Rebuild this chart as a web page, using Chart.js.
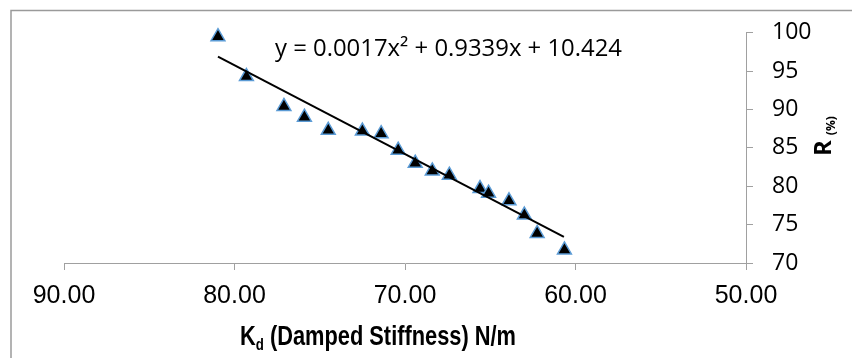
<!DOCTYPE html>
<html>
<head>
<meta charset="utf-8">
<script src="https://cdn.jsdelivr.net/npm/chart.js@4.4.1/dist/chart.umd.min.js"></script>
<style>
  html, body { margin: 0; padding: 0; background: #ffffff; }
  #wrap { width: 852px; height: 358px; position: relative; }
</style>
</head>
<body>
<div id="wrap"><canvas id="chart"></canvas></div>
<script>
// Damped stiffness Kd (N/m) vs R (%)
const stiffness = [80.97, 79.3, 77.1, 75.9, 74.5, 72.5, 71.4, 70.4, 69.4, 68.4, 67.4, 65.6, 65.1, 63.9, 63.0, 62.25, 60.65];
const ratio     = [99.5, 94.3, 90.4, 89.0, 87.3, 87.2, 86.85, 84.7, 83.0, 82.0, 81.45, 79.7, 79.1, 78.1, 76.25, 73.85, 71.7];

// fitted trend line, ends
const trendX = [80.97, 60.68];
const trendY = [96.9, 73.4];

const xTicks = [90, 80, 70, 60, 50];
const yTicks = [70, 75, 80, 85, 90, 95, 100];
const equationText = 'y = 0.0017x\u00B2 + 0.9339x + 10.424';

const axisGray = '#a0a0a0';

// frame, equation and axis titles
const decorations = {
    id: 'decorations',
    afterDraw(chart) {
        const ctx = chart.ctx;
        ctx.save();

        // outer frame (only top and left edges are visible)
        ctx.strokeStyle = '#9a9a9a';
        ctx.lineWidth = 1.5;
        ctx.beginPath();
        ctx.moveTo(11, 358);
        ctx.lineTo(11, 10.5);
        ctx.lineTo(852, 10.5);
        ctx.stroke();

        // trend line equation, stretched to the width seen in the picture
        ctx.fillStyle = '#000000';
        ctx.font = "23px 'Open Sans'";
        ctx.textBaseline = 'alphabetic';
        ctx.textAlign = 'left';
        const wEq = ctx.measureText(equationText).width;
        ctx.save();
        ctx.translate(275, 56);
        ctx.scale(347 / wEq, 1);
        ctx.fillText(equationText, 0, 0);
        ctx.restore();

        // x axis title: K_d (Damped Stiffness) N/m
        const bigFont = "bold 28px 'Liberation Sans Narrow', 'Liberation Sans'";
        const subFont = "bold 17px 'Liberation Sans Narrow', 'Liberation Sans'";
        ctx.font = bigFont;
        const wK = ctx.measureText('K').width;
        const wRest = ctx.measureText(' (Damped Stiffness) N/m').width;
        ctx.font = subFont;
        const wD = ctx.measureText('d').width;
        const total = wK + wD + wRest;
        ctx.save();
        ctx.translate(240, 345);
        ctx.scale(276 / total, 1);
        ctx.font = bigFont;
        ctx.fillText('K', 0, 0);
        ctx.font = subFont;
        ctx.fillText('d', wK, 5);
        ctx.font = bigFont;
        ctx.fillText(' (Damped Stiffness) N/m', wK + wD, 0);
        ctx.restore();

        // y axis title: R with (%) as subscript, rotated
        ctx.save();
        ctx.translate(831, 156);
        ctx.rotate(-Math.PI / 2);
        ctx.font = "bold 24px 'Open Sans'";
        ctx.fillText('R', 0, 0);
        const wR = ctx.measureText('R').width;
        ctx.font = "bold 12px 'Open Sans'";
        ctx.fillText('(%)', wR + 5, 4);
        ctx.restore();

        ctx.restore();
    }
};

new Chart(document.getElementById('chart'), {
    type: 'scatter',
    data: {
        datasets: [{
            label: 'R',
            data: stiffness.map((x, i) => ({ x: x, y: ratio[i] })),
            pointStyle: 'triangle',
            pointRadius: 8,
            pointHoverRadius: 8,
            backgroundColor: '#000000',
            borderColor: '#5b9bd5',
            borderWidth: 1.5,
            clip: false,
            order: 2
        }, {
            label: 'Trend',
            type: 'line',
            data: trendX.map((x, i) => ({ x: x, y: trendY[i] })),
            borderColor: '#000000',
            borderWidth: 2,
            pointRadius: 0,
            fill: false,
            tension: 0,
            order: 1
        }]
    },
    options: {
        responsive: true,
        maintainAspectRatio: false,
        animation: false,
        layout: {
            padding: { left: 64, top: 32, right: 0, bottom: 0 }
        },
        plugins: {
            legend: { display: false },
            tooltip: { enabled: false },
            title: { display: false }
        },
        scales: {
            x: {
                type: 'linear',
                reverse: true,
                min: 50,
                max: 90,
                afterFit(scale) { scale.height = 95; },
                afterBuildTicks(scale) { scale.ticks = xTicks.map(v => ({ value: v })); },
                grid: {
                    drawOnChartArea: false,
                    drawTicks: true,
                    tickLength: 7,
                    color: axisGray
                },
                border: { color: axisGray, width: 1 },
                ticks: {
                    padding: 11,
                    maxRotation: 0,
                    color: '#000000',
                    font: { family: "'Liberation Sans'", size: 25 },
                    callback: v => Number(v).toFixed(2)
                }
            },
            y: {
                type: 'linear',
                position: 'right',
                min: 70,
                max: 100,
                afterFit(scale) { scale.width = 106; },
                afterBuildTicks(scale) { scale.ticks = yTicks.map(v => ({ value: v })); },
                grid: {
                    drawOnChartArea: false,
                    drawTicks: true,
                    tickLength: 7,
                    color: axisGray
                },
                border: { color: axisGray, width: 1 },
                ticks: {
                    padding: 19,
                    color: '#000000',
                    font: { family: "'Open Sans'", size: 23 }
                }
            }
        }
    },
    plugins: [decorations]
});
</script>
</body>
</html>
